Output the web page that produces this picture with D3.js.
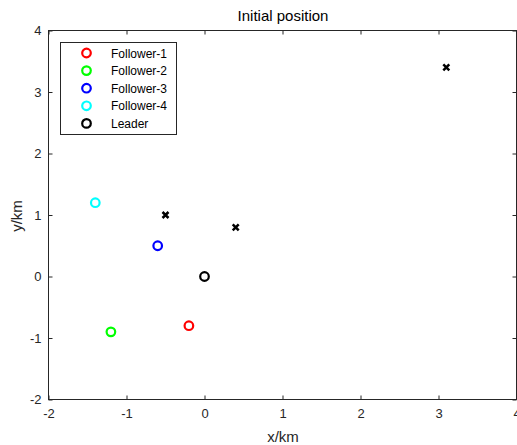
<!DOCTYPE html>
<html>
<head>
<meta charset="utf-8">
<script src="https://cdn.jsdelivr.net/npm/d3@7"></script>
<style>
  body { margin: 0; background: #fff; }
  svg { display: block; font-family: "Liberation Sans", Arial, sans-serif; }
  .axis path { display: none; }
  .axis line { stroke: #262626; }
  .axis text { fill: #262626; font-size: 13px; }
</style>
</head>
<body>
<svg id="chart" width="517" height="445"></svg>
<script>
// agents at start
var agentNames = ['Follower-1', 'Follower-2', 'Follower-3', 'Follower-4', 'Leader'];
var agentX = [-0.2, -1.2, -0.6, -1.4, 0];
var agentY = [-0.8, -0.9, 0.5, 1.2, 0];
var agentColors = ['#ff0000', '#00ff00', '#0000ff', '#00ffff', '#000000'];

// cross markers
var crossX = [-0.5, 0.4, 3.1];
var crossY = [1.0, 0.8, 3.4];

var xTicks = [-2, -1, 0, 1, 2, 3, 4];
var yTicks = [-2, -1, 0, 1, 2, 3, 4];

drawChart();

function drawChart(){
    var margin = {top: 30.5, left: 48.5, right: 516.5, bottom: 399.5};
    var svg = d3.select('#chart');

    var x = d3.scaleLinear().domain([-2, 4]).range([margin.left, margin.right]);
    var y = d3.scaleLinear().domain([-2, 4]).range([margin.bottom, margin.top]);

    // plain hyphen minus like matlab
    var fmt = function(d){ return String(d); };

    // title
    svg.append('text')
        .attr('x', 283).attr('y', 21)
        .attr('text-anchor', 'middle')
        .style('font-size', '15px')
        .style('fill', '#000')
        .text('Initial position');

    // axes, ticks pointing inward
    svg.append('g').attr('class', 'axis')
        .attr('transform', 'translate(0,' + margin.bottom + ')')
        .call(d3.axisBottom(x).tickValues(xTicks).tickSize(-4).tickPadding(9).tickFormat(fmt));
    svg.append('g').attr('class', 'axis')
        .attr('transform', 'translate(0,' + margin.top + ')')
        .call(d3.axisTop(x).tickValues(xTicks).tickSize(-4).tickFormat(''));
    svg.append('g').attr('class', 'axis')
        .attr('transform', 'translate(' + margin.left + ',0)')
        .call(d3.axisLeft(y).tickValues(yTicks).tickSize(-4).tickPadding(7).tickFormat(fmt));
    svg.append('g').attr('class', 'axis')
        .attr('transform', 'translate(' + margin.right + ',0)')
        .call(d3.axisRight(y).tickValues(yTicks).tickSize(-4).tickFormat(''));

    // box
    svg.append('rect')
        .attr('x', margin.left).attr('y', margin.top)
        .attr('width', margin.right - margin.left)
        .attr('height', margin.bottom - margin.top)
        .attr('fill', 'none')
        .attr('stroke', '#262626');

    // axis labels
    svg.append('text')
        .attr('x', 283).attr('y', 442)
        .attr('text-anchor', 'middle')
        .style('font-size', '15px').style('fill', '#262626')
        .text('x/km');
    svg.append('text')
        .attr('transform', 'translate(22,216) rotate(-90)')
        .attr('text-anchor', 'middle')
        .style('font-size', '15px').style('fill', '#262626')
        .text('y/km');

    // crosses
    var s = 3;
    svg.selectAll('.cross')
        .data(crossX.map(function(d, i){ return {x: d, y: crossY[i]}; }))
      .enter().append('path')
        .attr('class', 'cross')
        .attr('d', function(d){
            var cx = x(d.x), cy = y(d.y);
            return 'M' + (cx - s) + ',' + (cy - s) + 'L' + (cx + s) + ',' + (cy + s) +
                   'M' + (cx - s) + ',' + (cy + s) + 'L' + (cx + s) + ',' + (cy - s);
        })
        .attr('stroke', '#000')
        .attr('stroke-width', 2.5);

    // agents
    svg.selectAll('.agent')
        .data(agentX.map(function(d, i){ return {x: d, y: agentY[i], c: agentColors[i]}; }))
      .enter().append('circle')
        .attr('class', 'agent')
        .attr('cx', function(d){ return x(d.x); })
        .attr('cy', function(d){ return y(d.y); })
        .attr('r', 4.3)
        .attr('fill', 'none')
        .attr('stroke', function(d){ return d.c; })
        .attr('stroke-width', 2.2);

    // legend
    var legend = svg.append('g');
    legend.append('rect')
        .attr('x', 60.5).attr('y', 42.5)
        .attr('width', 116).attr('height', 92)
        .attr('fill', '#fff')
        .attr('stroke', '#262626');
    var rows = legend.selectAll('.row')
        .data(agentNames)
      .enter().append('g')
        .attr('transform', function(d, i){ return 'translate(0,' + (53 + i * 17.6) + ')'; });
    rows.append('circle')
        .attr('cx', 86.5).attr('cy', 0)
        .attr('r', 4.3)
        .attr('fill', 'none')
        .attr('stroke', function(d, i){ return agentColors[i]; })
        .attr('stroke-width', 2.2);
    rows.append('text')
        .attr('x', 111).attr('y', 4.5)
        .style('font-size', '12px').style('fill', '#000')
        .text(function(d){ return d; });
}
</script>
</body>
</html>
